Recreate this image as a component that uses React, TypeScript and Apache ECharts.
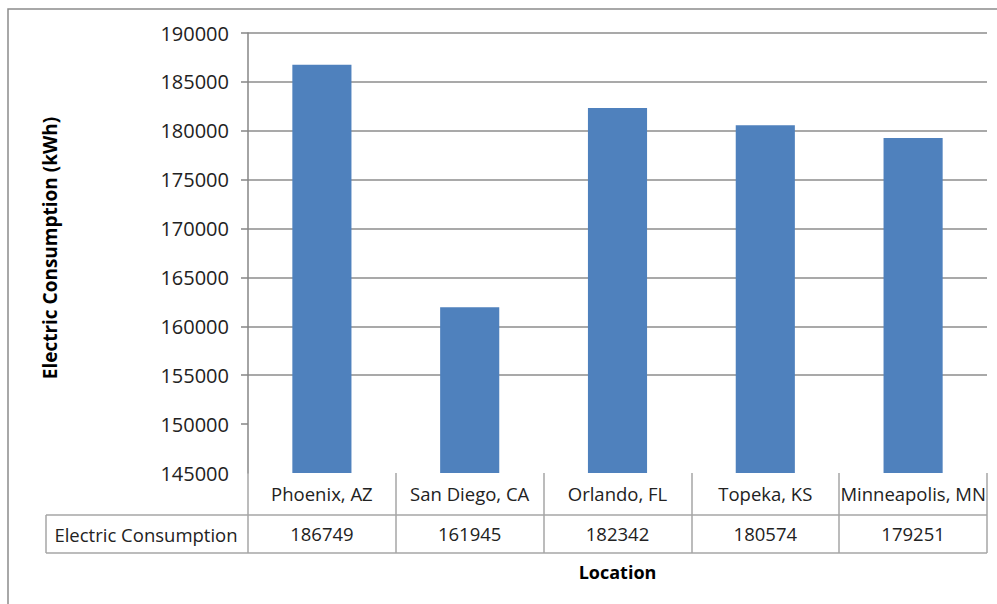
import React, { useEffect, useRef } from "react";
import * as echarts from "echarts";

const categories = ["Phoenix, AZ", "San Diego, CA", "Orlando, FL", "Topeka, KS", "Minneapolis, MN"];
const consumption = [186749, 161945, 182342, 180574, 179251];
const yTicks = [150000, 155000, 160000, 165000, 170000, 175000, 180000, 185000, 190000];
const seriesName = "Electric Consumption";
const yTitle = "Electric Consumption (kWh)";
const xTitle = "Location";

const W = 997;
const H = 604;
const LEFT = 248;
const RIGHT = 987;
const TOP = 33;
const BOTTOM = 473;
const ROW1 = 515;
const ROW2 = 553;
const FONT = "'Open Sans', 'Noto Sans', sans-serif";
const LINE = "#a6a6a6";

export default function App() {
  const ref = useRef<HTMLDivElement>(null);
  useEffect(() => {
    if (!ref.current) return;
    const chart = echarts.init(ref.current, undefined, { renderer: "svg", width: W, height: H });
    const tableLine = (x1: number, y1: number, x2: number, y2: number) => ({
      type: "line",
      shape: { x1, y1, x2, y2 },
      style: { stroke: LINE, lineWidth: 1.5 },
      silent: true,
    });
    chart.setOption({
      animation: false,
      backgroundColor: "#fff",
      grid: { left: LEFT, right: W - RIGHT, top: TOP, bottom: H - BOTTOM, containLabel: false },
      xAxis: [
        {
          type: "category",
          data: categories,
          position: "bottom",
          axisLine: { show: false },
          axisTick: { show: true, alignWithLabel: false, length: ROW1 - BOTTOM, lineStyle: { color: LINE, width: 1.5 } },
          axisLabel: { margin: 11, fontFamily: FONT, fontSize: 18.5, color: "#222", interval: 0 },
        },
        {
          type: "category",
          data: consumption.map((v) => String(v)),
          position: "bottom",
          offset: ROW1 - BOTTOM,
          axisLine: { show: false },
          axisTick: { show: true, alignWithLabel: false, length: ROW2 - ROW1, lineStyle: { color: LINE, width: 1.5 } },
          axisLabel: { margin: 9, fontFamily: FONT, fontSize: 18.5, color: "#222", interval: 0 },
        },
      ],
      yAxis: {
        type: "value",
        min: 145000,
        max: 190000,
        interval: 5000,
        axisLine: { show: true, lineStyle: { color: "#868686", width: 1.5 } },
        axisTick: { show: true, inside: false, length: 7, customValues: yTicks, lineStyle: { color: "#868686", width: 1.5 } },
        axisLabel: { margin: 19, fontFamily: FONT, fontSize: 20, color: "#222", formatter: (v: number) => String(v) },
        splitLine: { show: true, showMinLine: false, lineStyle: { color: "#8c8c8c", width: 1.5 } },
      },
      series: [
        {
          name: seriesName,
          type: "bar",
          data: consumption,
          barWidth: "40%",
          itemStyle: { color: "#4f81bd" },
        },
      ],
      graphic: [
        { type: "rect", shape: { x: 8, y: 9, width: W, height: H }, style: { fill: "none", stroke: "#8c8c8c", lineWidth: 1.5 }, silent: true },
        tableLine(46, ROW1, RIGHT, ROW1),
        tableLine(46, ROW2, RIGHT, ROW2),
        tableLine(46, ROW1, 46, ROW2),
        {
          type: "text",
          x: 146,
          y: (ROW1 + ROW2) / 2,
          style: { text: seriesName, fontFamily: FONT, fontSize: 18.5, fill: "#222", align: "center", verticalAlign: "middle" },
        },
        {
          type: "text",
          x: 50,
          y: 248,
          rotation: Math.PI / 2,
          style: { text: yTitle, fontFamily: FONT, fontSize: 19, fontWeight: "bold", fill: "#000", align: "center", verticalAlign: "middle" },
        },
        {
          type: "text",
          x: (LEFT + RIGHT) / 2,
          y: 572,
          style: { text: xTitle, fontFamily: FONT, fontSize: 18, fontWeight: "bold", fill: "#000", align: "center", verticalAlign: "middle" },
        },
      ],
    });
    return () => chart.dispose();
  }, []);
  return <div ref={ref} style={{ width: W, height: H, position: "absolute", left: 0, top: 0 }} />;
}
